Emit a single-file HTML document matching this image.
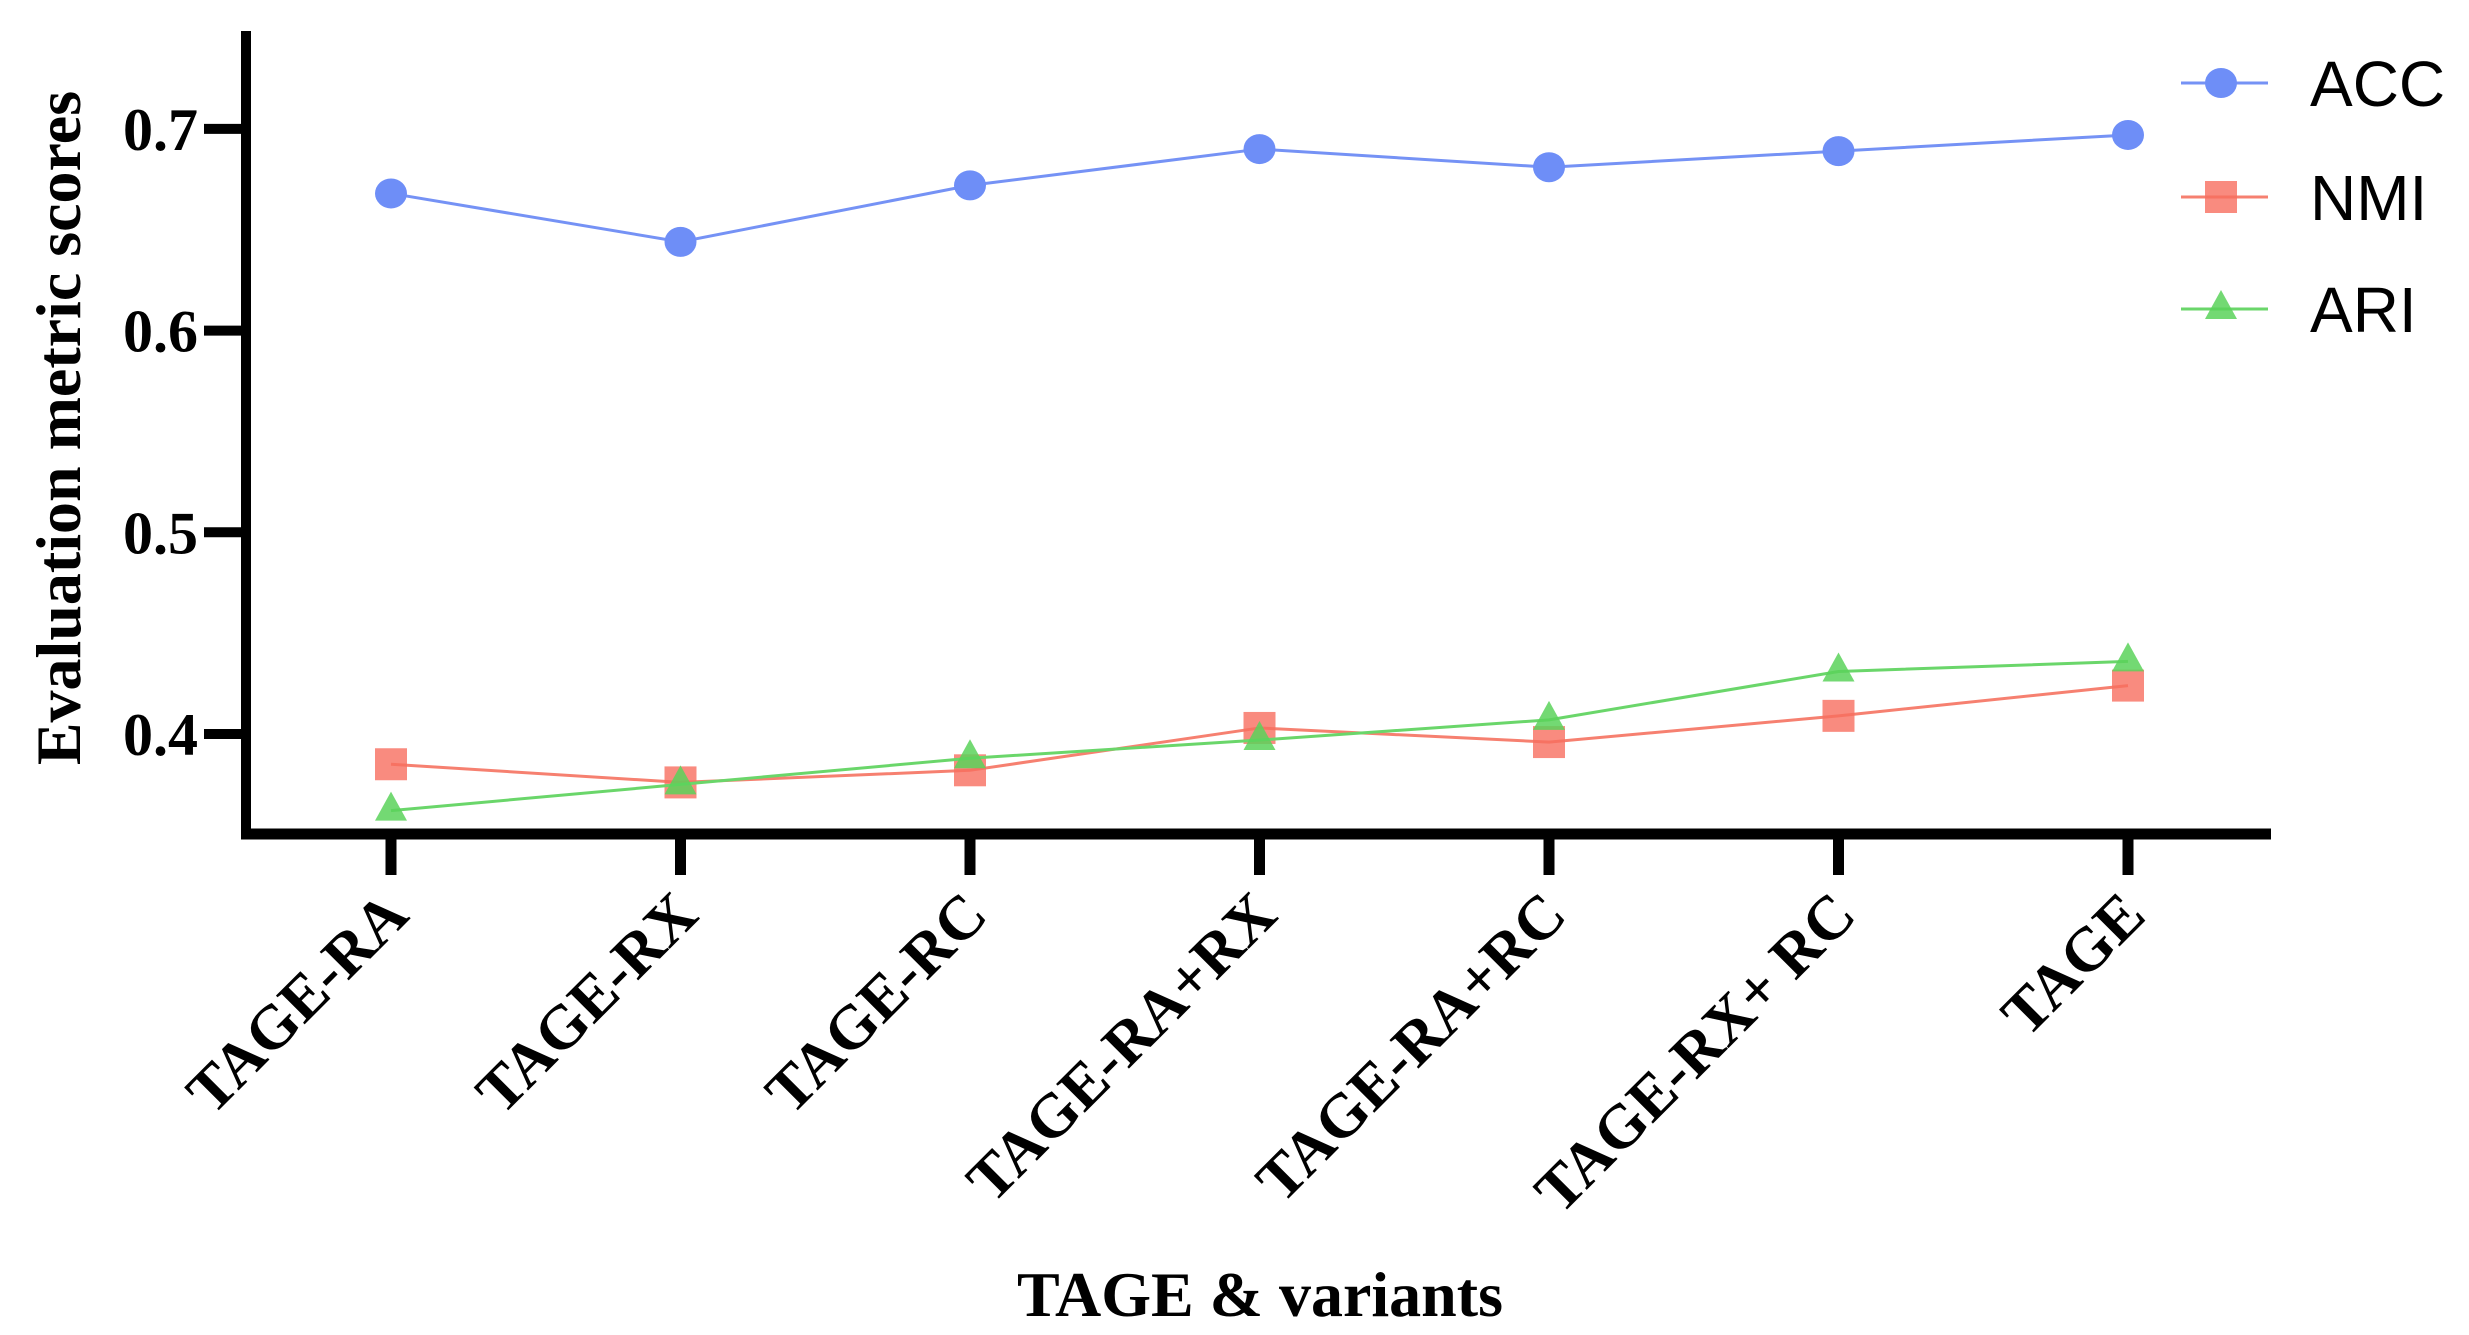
<!DOCTYPE html>
<html><head><meta charset="utf-8"><style>
html,body{margin:0;padding:0;background:#fff;}
svg{display:block;}
</style></head><body>
<svg id="chart" width="2469" height="1335" viewBox="0 0 2469 1335" xmlns="http://www.w3.org/2000/svg">
<g id="plot"></g>
</svg>
<script>
const categories = ["TAGE-RA","TAGE-RX","TAGE-RC","TAGE-RA+RX","TAGE-RA+RC","TAGE-RX+ RC","TAGE"];
const accValues = [0.668,0.644,0.672,0.690,0.681,0.689,0.697];
const nmiValues = [0.385,0.376,0.382,0.403,0.396,0.409,0.424];
const ariValues = [0.362,0.375,0.388,0.397,0.407,0.431,0.436];
const yTicks = [0.4,0.5,0.6,0.7];
const yTickLabels = ["0.4","0.5","0.6","0.7"];

const NS = "http://www.w3.org/2000/svg";
const g = document.getElementById("plot");
function xPos(i){ return 391 + i * 289.5; }
function yPos(v){ return 734 - (v - 0.4) * 2017; }
function mk(tag, attrs, parent){
  const e = document.createElementNS(NS, tag);
  for (const k in attrs) e.setAttribute(k, attrs[k]);
  (parent || g).appendChild(e);
  return e;
}
const serif = '"Liberation Serif", serif';
const sans = '"Liberation Sans", sans-serif';

let ya = mk("line",{x1:246,y1:31,x2:246,y2:839,stroke:"#000","stroke-width":10});


let xa = mk("line",{x1:241,y1:834,x2:2271,y2:834,stroke:"#000","stroke-width":11});



yTicks.forEach((v,i)=>{
  const t = mk("line",{x1:204,y1:yPos(v),x2:246,y2:yPos(v),stroke:"#000","stroke-width":10});
  
  
  const l = mk("text",{x:198,y:yPos(v)+21,"text-anchor":"end","font-family":serif,"font-weight":"bold","font-size":60});
  l.textContent = yTickLabels[i];
  
  
});

categories.forEach((c,i)=>{
  const x = xPos(i);
  const t = mk("line",{x1:x,y1:834,x2:x,y2:875,stroke:"#000","stroke-width":11});
  
  
  const l = mk("text",{x:0,y:0,"text-anchor":"end","font-family":serif,"font-weight":"bold","font-size":62,
    transform:`translate(${x+20},${918}) rotate(-45)`});
  l.textContent = c;
  
  
});

let yt = mk("text",{x:0,y:0,"text-anchor":"middle","font-family":serif,"font-weight":"bold","font-size":64,transform:"translate(80,428) rotate(-90)"});
yt.textContent = "Evaluation metric scores";


let xt = mk("text",{x:1260,y:1316,"text-anchor":"middle","font-family":serif,"font-weight":"bold","font-size":64});
xt.textContent = "TAGE & variants";



function marker(type, x, y, color, parent){
  let m;
  if (type==="circle") m = mk("ellipse",{cx:x,cy:y,rx:16,ry:15,fill:color},parent);
  else if (type==="square") m = mk("rect",{x:x-16,y:y-16,width:32,height:32,fill:color},parent);
  else m = mk("polygon",{points:`${x},${y-19} ${x-16},${y+10} ${x+16},${y+10}`,fill:color},parent);
  return m;
}

const series = [
  {name:"ACC", vals:accValues, color:"#6e8ef7", line:"#7592f5", type:"circle", ly:83},
  {name:"NMI", vals:nmiValues, color:"rgba(248,110,95,0.8)", line:"#f68070", type:"square", ly:197},
  {name:"ARI", vals:ariValues, color:"rgba(90,210,90,0.85)", line:"#6ad66a", type:"triangle", ly:309}
];
series.forEach(s=>{
  const sg = mk("g",{});
  
  
  const pts = s.vals.map((v,i)=>`${xPos(i)},${yPos(v)}`).join(" ");
  const pl = mk("polyline",{points:pts,fill:"none",stroke:s.line,"stroke-width":3},sg);
  
  
  s.vals.forEach((v,i)=>{
    const m = marker(s.type, xPos(i), yPos(v), s.color, sg);
    
    
  });
  const lg = mk("g",{});
  
  
  mk("line",{x1:2181,y1:s.ly,x2:2268,y2:s.ly,stroke:s.line,"stroke-width":3},lg);
  marker(s.type, 2221, s.ly, s.color, lg);
  const lt = mk("text",{x:2310,y:s.ly+23,"font-family":sans,"font-size":64},lg);
  lt.textContent = s.name;
});
</script>
</body></html>
